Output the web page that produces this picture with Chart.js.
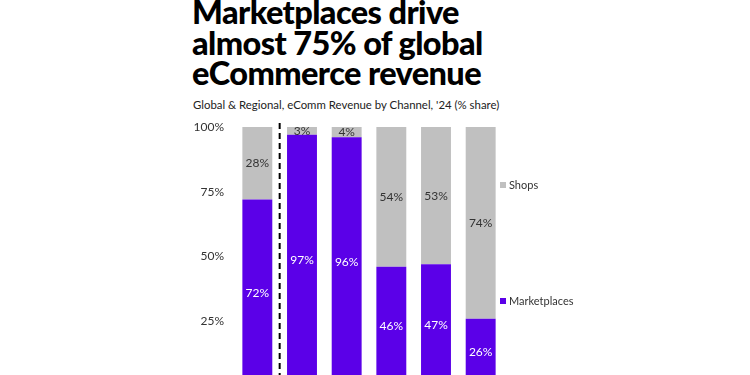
<!DOCTYPE html>
<html>
<head>
<meta charset="utf-8">
<script src="https://cdn.jsdelivr.net/npm/chart.js@4.4.1/dist/chart.umd.min.js"></script>
<style>
  html, body { margin: 0; padding: 0; width: 750px; height: 375px; overflow: hidden; background: #fff; }
  #wrap { position: relative; width: 750px; height: 375px; overflow: hidden; }
  #title { position: absolute; left: 192px; top: -3px; font-family: Lato, sans-serif; font-weight: 900; font-size: 32.5px; line-height: 30.5px; color: #000; letter-spacing: -0.6px; white-space: nowrap; }
  #subtitle { position: absolute; left: 193px; top: 98px; font-family: Lato, sans-serif; font-size: 11.4px; color: #222; white-space: nowrap; }
  #c { position: absolute; left: 0; top: 0; }
  .leg { position: absolute; font-family: Lato, sans-serif; font-size: 11px; color: #333; white-space: nowrap; }
  .leg i { display: inline-block; width: 6px; height: 6px; margin-right: 3px; vertical-align: 1px; }
</style>
</head>
<body>
<div id="wrap">
  <div id="title">Marketplaces drive<br>almost 75% of global<br>eCommerce revenue</div>
  <div id="subtitle">Global &amp; Regional, eComm Revenue by Channel, '24 (% share)</div>
  <canvas id="c" width="750" height="420"></canvas>
  <div id="legend"></div>
</div>
<script>
const categories = ["Global", "Region 1", "Region 2", "Region 3", "Region 4", "Region 5"];
const marketplaces = [72, 97, 96, 46, 47, 26];
const shops = [28, 3, 4, 54, 53, 74];
const yTicks = [25, 50, 75, 100];

const purple = "#5b00e8";
const gray = "#c0c0c0";

const labelPlugin = {
  id: "segLabels",
  afterDatasetsDraw(chart) {
    const ctx = chart.ctx;
    ctx.save();
    ctx.font = "12px Lato, sans-serif";
    ctx.textAlign = "center";
    ctx.textBaseline = "middle";
    chart.data.datasets.forEach((ds, di) => {
      const meta = chart.getDatasetMeta(di);
      meta.data.forEach((el, i) => {
        const yc = (el.y + el.base) / 2;
        ctx.fillStyle = di === 0 ? "#ffffff" : "#333333";
        ctx.fillText(ds.data[i] + "%", el.x, yc);
      });
    });
    ctx.restore();
  }
};

const dividerPlugin = {
  id: "divider",
  afterDatasetsDraw(chart) {
    const x = chart.scales.x;
    const xm = (x.getPixelForValue(0) + x.getPixelForValue(1)) / 2;
    const ctx = chart.ctx;
    ctx.save();
    ctx.strokeStyle = "#000";
    ctx.lineWidth = 2;
    ctx.setLineDash([6, 4]);
    ctx.beginPath();
    ctx.moveTo(xm, chart.chartArea.top - 4);
    ctx.lineTo(xm, chart.chartArea.bottom);
    ctx.stroke();
    ctx.restore();
  }
};

const chart = new Chart(document.getElementById("c"), {
  type: "bar",
  data: {
    labels: categories,
    datasets: [
      { label: "Marketplaces", data: marketplaces, backgroundColor: purple, barPercentage: 0.67, categoryPercentage: 1.0 },
      { label: "Shops", data: shops, backgroundColor: gray, barPercentage: 0.67, categoryPercentage: 1.0 }
    ]
  },
  options: {
    responsive: false,
    animation: false,
    layout: { padding: { left: 0, right: 247, top: 127, bottom: 34 } },
    plugins: { legend: { display: false }, tooltip: { enabled: false } },
    scales: {
      x: { stacked: true, display: false },
      y: {
        stacked: true, min: 0, max: 100,
        afterBuildTicks(s) { s.ticks = yTicks.map(v => ({ value: v })); },
        afterFit(s) { s.width = 235; },
        grid: { display: false, drawTicks: false },
        border: { display: false },
        ticks: { padding: 11, color: "#333", font: { family: "Lato, sans-serif", size: 12 }, callback: v => v + "%" }
      }
    }
  },
  plugins: [labelPlugin, dividerPlugin]
});

const legend = document.getElementById("legend");
const legendItems = [
  { ds: 1, top: 178 },
  { ds: 0, top: 294 }
];
legendItems.forEach(it => {
  const ds = chart.data.datasets[it.ds];
  const d = document.createElement("div");
  d.className = "leg";
  d.style.left = "500px";
  d.style.top = it.top + "px";
  d.innerHTML = '<i style="background:' + ds.backgroundColor + '"></i>' + ds.label;
  legend.appendChild(d);
});
</script>
</body>
</html>
